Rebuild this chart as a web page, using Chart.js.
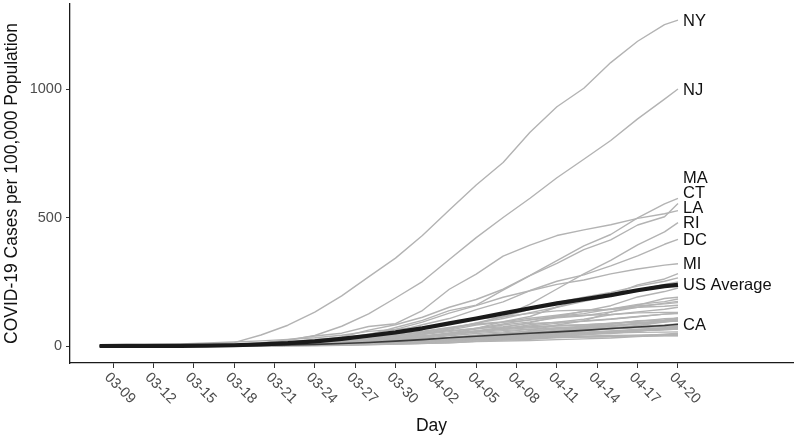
<!DOCTYPE html>
<html>
<head>
<meta charset="utf-8">
<script src="https://cdn.jsdelivr.net/npm/chart.js@4.4.0/dist/chart.umd.min.js"></script>
<style>
html,body{margin:0;padding:0;background:#fff;}
#wrap{width:800px;height:437px;position:relative;}
</style>
</head>
<body>
<div id="wrap"><canvas id="c" width="800" height="437"></canvas></div>
<script>
// ---- data ----
const dates = ["03-08","03-10","03-12","03-14","03-16","03-18","03-20","03-22","03-24","03-26","03-28","03-30","04-01","04-03","04-05","04-07","04-09","04-11","04-13","04-15","04-17","04-19","04-20"];
const tickLabels = ["03-09","03-12","03-15","03-18","03-21","03-24","03-27","03-30","04-02","04-05","04-08","04-11","04-14","04-17","04-20"];
const yTicks = [0, 500, 1000];

const NY = [0.5,0.9,1.7,3.2,7.1,13,43,81,132,195,269,342,430,529,627,714,832,931,1003,1103,1186,1251,1268];
const NJ = [0.1,0.2,0.3,0.8,2,4.8,10,21.6,41,77,125,187,251,337,422,500,575,655,727,800,884,961,1000];
const MA = [0.4,1.3,1.6,2,2.9,3.7,6,9.4,16.8,35,62,83,112,151,181,221,275,332,390,434,499,553,575];
const CT = [0,0.1,0.1,0.6,1.1,2.7,5.4,9.2,17.3,28,43,72,100,138,159,218,274,322,375,413,471,503,555];
const LA = [0,0,0.4,1.7,2.9,6,11.6,25,39,50,76,87,138,221,280,350,393,430,452,472,497,515,527];
const RI = [0.3,0.3,0.5,1.9,2,3.1,4.2,7.8,11.7,15.6,22.5,38.5,53,67,87,116,163,222,281,333,394,444,480];
const DC = [0.1,0.6,1.4,1.4,3.1,5.5,10,16.5,26,33,43,57,83,107,142,172,216,252,277,312,351,396,415];
const MI = [0,0,0.1,0.3,0.5,0.8,5.5,10.4,23,28.6,46.5,65,93,128,157,190,215,240,257,281,300,315,320];
const CA = [0.3,0.4,0.6,1,1.5,1.9,3.1,4.4,6.4,9.9,14,19,25,32,38,44,50,55,61,68,74,80,85];
const US = [0.2,0.3,0.5,0.9,1.5,3,6.5,11,18,28,40,53,69,88,107,127,147,166,182,198,217,233,238];

const WA = [1.8,3.5,6,8.5,11.9,15.6,20,26,32,42,57,65,74,87,105,114,127,137,140,142,151,155,159];
const IL = [0.1,0.2,0.3,0.5,0.8,2.3,4.6,8.3,12,20,27.6,40,55,70,89,107,130,151,174,194,218,240,249];
const PA = [0,0.1,0.2,0.3,0.6,1,2.1,3.7,6.6,13,21.5,32,45,66,90,114,143,170,190,209,233,252,265];
const DE = [0,0,0.1,0.6,0.8,2.7,4,5.7,10.7,14.7,22,27,38,46,69,95,115,152,181,198,238,261,282];
const MD = [0,0.1,0.2,0.4,0.6,1.4,2.5,4,5.8,9.6,16.4,23,33,46,60,72,91,115,136,157,191,212,226];
const GA = [0,0.2,0.3,0.6,1.1,1.9,4.6,7.3,10.3,14.4,22,26.5,45,56,69,86,103,116,126,144,162,173,183];
const SD = [0,0,0,1,1.1,1.2,1.6,2.4,3.4,5.2,7.7,11.4,14.6,21,27,36,61,82,98,132,159,185,190];
const CO = [0.1,0.3,0.8,1.8,2.8,3.8,6.3,10,16,25,36,46,58,72,86,94,108,120,134,144,157,164,169];
const IN = [0,0.1,0.2,0.2,0.4,0.6,1.2,3.8,5.4,9.6,18,26.5,38,51,66,82,94,110,118,133,151,167,174];
const MS = [0,0,0,0.3,0.4,1.1,2.7,7,10.7,16,22,28,36,49,58,67,83,93,104,122,133,143,151];
const VT = [0,0,0.3,0.8,1.9,3.5,4.6,8.3,15,25,34,41,51,62,82,92,101,114,120,123,129,131,131];
const NV = [0.1,0.2,0.4,0.7,1.8,2.7,5.1,8,10.4,17,30,36,47,60,68,75,88,92,96,104,114,124,128];
const FL = [0.1,0.1,0.2,0.4,0.7,1.5,2.6,4.7,6.8,11.6,18.8,26.5,36,48,57,69,78,88,98,105,115,124,126];
const NH = [0.1,0.3,0.4,0.7,1.9,2.9,4,5.7,7.4,11.6,19,27,30.5,40,49,55,65,68,72,84,99,102,106];
const OH = [0,0,0,0.2,0.4,0.8,1.4,3,4.8,7.4,12,16.5,22,28,35,41,47,53,60,67,78,99,110];
const TN = [0,0.1,0.3,0.5,0.8,1.4,3.3,7.4,9.8,14,20,27,39,45,56,64,71,78,82,89,96,106,108];
const AL = [0,0,0,0.1,0.6,1.0,2.1,4.0,4.9,11,14,19,23,32,40,47,57,67,77,87,97,100,104];
const VA = [0,0,0.1,0.4,0.6,0.9,1.3,2.6,3.4,5.4,8.8,13,18,24,30,40,48,60,68,75,88,100,105];
const IA = [0,0.4,0.5,0.6,0.7,1,1.4,2.8,3.9,6.3,9.5,13,17,22,29,37,45,55,62,70,80,93,100];
const UT = [0,0.1,0.2,0.4,1.2,2.5,4.4,8,12.4,18,24,31,38,45,53,60,66,71,76,80,87,97,100];
const NM = [0,0,0.2,0.6,1.0,1.4,2.0,3.1,5,8.8,12,12.5,16,24,30,38,46,61,69,77,86,95,99];
const MO = [0,0,0,0.1,0.1,0.3,1.2,2.6,3.9,8.1,13,19,25,33,42,51,59,66,73,79,88,94,97];
const ID = [0,0,0,0.1,0.3,0.5,1.7,2.8,5.5,11.5,18,23,36,48,58,67,75,80,83,88,92,96,97];
const SC = [0,0,0.2,0.4,0.6,0.9,1.6,3.0,5.1,8.7,12,15.6,21,29,38,45,54,60,64,69,76,82,86];
const WI = [0,0,0.1,0.3,0.6,1.8,3.2,6.0,7.8,11,15,20,25,32,40,46,53,57,62,66,71,76,79];
const ND = [0,0,0,0.1,0.1,0.7,1.8,3.9,4.5,6.6,12.7,14,18,23,27.5,31,36,43,45,49,58,69,77];
const NE = [0,0,0.2,0.5,0.8,1.2,1.3,2.6,2.7,3.8,5.4,7.5,10,15,20,25,30,37,44,55,65,71,76];
const KY = [0,0,0.2,0.4,0.5,0.8,1.1,2.3,3.0,5.3,8.8,11,14,18,24,28,33,40,46,52,58,66,71];
const OK = [0,0,0.1,0.1,0.3,0.7,1.2,1.7,2.6,6.7,11,14.6,18,24,31,36,43,48,53,58,64,69,71];
const KS = [0,0,0.1,0.2,0.4,0.7,1.5,2.8,4.2,6.6,9.4,12.9,16,21,27,34,41,45,49,55,61,68,70];
const AZ = [0,0,0.1,0.2,0.3,0.6,1.3,2.8,4.7,7.6,12,16,22,28,32,38,44,50,54,59,64,68,70];
const TX = [0,0,0.1,0.2,0.3,0.6,1.3,2.3,3.3,5.1,8,11,15,22,25,31,37,43,49,54,59,65,68];
const NC = [0,0,0.1,0.2,0.3,0.7,1.4,2.6,4,6.1,10,13,17,22,27,33,38,44,50,54,59,65,69];
const AR = [0,0,0.2,0.4,0.7,1.5,3.3,5.8,7.3,10,14,16.5,20,24,28,31,38,44,52,55,59,63,66];
const ME = [0,0,0.1,0.9,1.2,3.2,4.3,8,10,12,16,18.5,22,28,33,39,44,47,50,55,60,64,66];
const WY = [0,0,0,0.2,0.5,2.6,3.2,4.5,6.7,9.5,13,16.5,23,26,27,36,41,48,49,51,53,54,55];
const WV = [0,0,0,0,0,0.1,0.4,0.9,1.1,2.8,5,8,11,12.8,18,23,26,33,36,36,39,46,50];
const OR = [0,0.4,0.6,0.8,1.1,1.8,2,4,5.8,7.8,10.7,13.5,17,20.5,24,27.5,30,33,35,38,41,44,46];
const MN = [0,0,0.1,0.6,1.0,1.4,2,2.5,4.1,5,6.8,9,11,13,17,19.5,21.5,25,28,31,37,42,42];
const AK = [0,0,0,0,0.1,0.4,1.6,4.9,5.6,8.2,12,16.6,19,21,25,30,33,35,38,41,42,43,44];
const HI = [0,0,0,0.2,0.3,0.9,2.6,4.4,6.2,7.3,11,14.6,18,22,26,30,32,35,36,38,40,41,41];
const MT = [0,0,0,0.2,0.7,1.2,1.7,3.0,4.9,11,19,20,23,29,30.6,31.6,35,36,37,38,39,40,40];

const grayStates = [["NY",NY],["NJ",NJ],["MA",MA],["CT",CT],["LA",LA],["RI",RI],["DC",DC],["MI",MI],
  ["WA",WA],["IL",IL],["PA",PA],["DE",DE],["MD",MD],["GA",GA],["SD",SD],["CO",CO],["IN",IN],["MS",MS],
  ["VT",VT],["NV",NV],["FL",FL],["NH",NH],["OH",OH],["TN",TN],["AL",AL],["VA",VA],["IA",IA],["UT",UT],
  ["NM",NM],["MO",MO],["ID",ID],["SC",SC],["WI",WI],["ND",ND],["NE",NE],["KY",KY],["OK",OK],["KS",KS],
  ["AZ",AZ],["TX",TX],["NC",NC],["AR",AR],["ME",ME],["WY",WY],["WV",WV],["OR",OR],["MN",MN],["AK",AK],
  ["HI",HI],["MT",MT]];
const labelled = ["NY","NJ","MA","CT","LA","RI","DC","MI","US Average","CA"];

// ---- helpers ----
function dayNum(s){
  const [m,d] = s.split("-").map(Number);
  return Math.round((Date.UTC(2020,m-1,d) - Date.UTC(2020,2,8)) / 86400000);
}
function pts(arr){ return arr.map((v,i)=>({x: dayNum(dates[i]), y: v})); }

const FONT = "'Liberation Sans', Arial, Helvetica, sans-serif";
Chart.defaults.font.family = FONT;

const datasets = [];
datasets.push({label:"US Average", data: pts(US), borderColor:"#1a1a1a", borderWidth:4.2, order:0});
datasets.push({label:"CA", data: pts(CA), borderColor:"#3a3a3a", borderWidth:1.6, order:1});
grayStates.forEach(([n,a]) => datasets.push({label:n, data: pts(a), borderColor:"#b3b3b3", borderWidth:1.4, order:2}));

const textPlugin = {
  id: "textPlugin",
  afterDatasetsDraw(chart){
    const ctx = chart.ctx;
    const items = [];
    chart.data.datasets.forEach((ds,i) => {
      if (!labelled.includes(ds.label)) return;
      const meta = chart.getDatasetMeta(i);
      const el = meta.data[meta.data.length-1];
      items.push({t: ds.label, x: el.x, y: el.y});
    });
    items.sort((a,b) => b.y - a.y);
    let prev = Infinity;
    ctx.save();
    ctx.font = "16.5px " + FONT;
    ctx.fillStyle = "#111";
    ctx.textAlign = "left";
    ctx.textBaseline = "middle";
    items.forEach(it => {
      const yy = Math.min(it.y, prev - 15);
      prev = yy;
      ctx.fillText(it.t, it.x + 5, yy + 1);
    });
    ctx.restore();
  },
  afterDraw(chart){
    const ctx = chart.ctx;
    const xs = chart.scales.x;
    const ca = chart.chartArea;
    ctx.save();
    ctx.font = "14.5px " + FONT;
    ctx.fillStyle = "#4d4d4d";
    ctx.textAlign = "left";
    ctx.textBaseline = "top";
    tickLabels.forEach(l => {
      const px = xs.getPixelForValue(dayNum(l));
      ctx.save();
      ctx.translate(px - 1, ca.bottom + 7);
      ctx.rotate(Math.PI/4);
      ctx.fillText(l, 0, 0);
      ctx.restore();
    });
    ctx.fillStyle = "#111";
    ctx.font = "17.5px " + FONT;
    ctx.textAlign = "center";
    ctx.textBaseline = "alphabetic";
    ctx.fillText("Day", (ca.left + ca.right)/2, 431);
    ctx.save();
    ctx.translate(16.5, (ca.top + ca.bottom)/2);
    ctx.rotate(-Math.PI/2);
    ctx.fillText("COVID-19 Cases per 100,000 Population", 0, 0);
    ctx.restore();
    ctx.restore();
  }
};

new Chart(document.getElementById("c"), {
  type: "line",
  data: { datasets },
  options: {
    responsive: false,
    animation: false,
    devicePixelRatio: 1,
    layout: { padding: { top: 4, right: 7, left: 0, bottom: 0 } },
    elements: { point: { radius: 0 }, line: { tension: 0, borderCapStyle: "butt", borderJoinStyle: "round" } },
    plugins: { legend: { display: false }, tooltip: { enabled: false } },
    scales: {
      x: {
        type: "linear",
        min: -2.197, max: 51.55,
        afterBuildTicks: s => { s.ticks = tickLabels.map(l => ({ value: dayNum(l) })); },
        afterFit: s => { s.height = 74; s.paddingLeft = 0; s.paddingRight = 0; s.paddingTop = 0; s.paddingBottom = 0; },
        ticks: { display: false },
        grid: { drawOnChartArea: false, drawTicks: true, tickLength: 5, color: "#333", lineWidth: 1 },
        border: { display: true, color: "#1a1a1a", width: 1.3 }
      },
      y: {
        type: "linear",
        min: -66, max: 1331,
        afterBuildTicks: s => { s.ticks = yTicks.map(v => ({ value: v })); },
        afterFit: s => { s.width = 70; s.paddingTop = 0; s.paddingBottom = 0; s.paddingLeft = 0; s.paddingRight = 0; },
        ticks: { font: { size: 14.5, family: FONT }, color: "#4d4d4d", padding: 4, callback: v => String(v) },
        grid: { drawOnChartArea: false, drawTicks: true, tickLength: 4, color: "#333", lineWidth: 1 },
        border: { display: true, color: "#1a1a1a", width: 1.3 }
      }
    }
  },
  plugins: [textPlugin]
});
</script>
</body>
</html>
